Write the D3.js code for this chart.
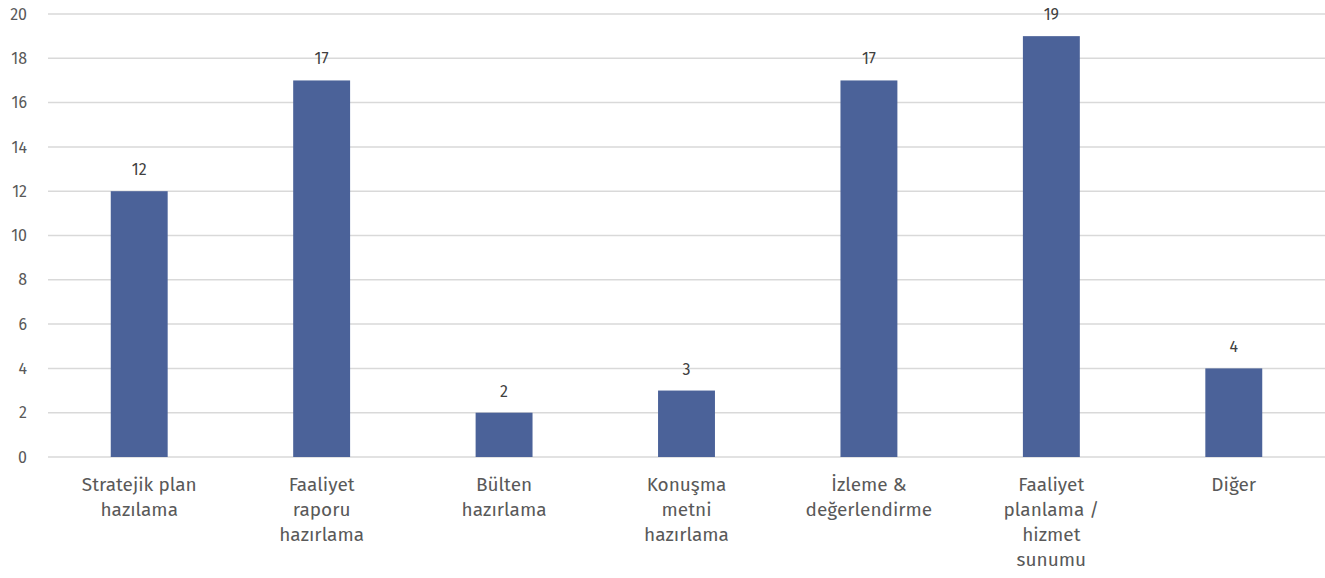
<!DOCTYPE html>
<html>
<head>
<meta charset="utf-8">
<script src="https://cdn.jsdelivr.net/npm/d3@7"></script>
<style>
  html, body { margin: 0; padding: 0; background: #fff; }
  svg { display: block; font-family: "Fira Sans", "Open Sans", Lato, sans-serif; font-weight: 400; }
</style>
</head>
<body>
<svg id="chart" width="1325" height="578"></svg>
<script>
// Categories (each label split into its wrapped lines) and counts
const categories = [
  ["Stratejik plan", "hazılama"],
  ["Faaliyet", "raporu", "hazırlama"],
  ["Bülten", "hazırlama"],
  ["Konuşma", "metni", "hazırlama"],
  ["İzleme &", "değerlendirme"],
  ["Faaliyet", "planlama /", "hizmet", "sunumu"],
  ["Diğer"]
];
const values = [12, 17, 2, 3, 17, 19, 4];
const yTicks = [0, 2, 4, 6, 8, 10, 12, 14, 16, 18, 20];

(function draw() {
  const svg = d3.select("#chart");
  const plotLeft = 48, plotRight = 1325, plotTop = 14, plotBottom = 457;

  const x = d3.scaleBand()
    .domain(d3.range(categories.length))
    .range([plotLeft, plotRight])
    .padding(0);
  const y = d3.scaleLinear().domain([0, 20]).range([plotBottom, plotTop]);
  const barW = x.bandwidth() * 0.312;

  // horizontal gridlines
  svg.append("g")
    .selectAll("line")
    .data(yTicks)
    .join("line")
    .attr("x1", plotLeft).attr("x2", plotRight)
    .attr("y1", d => y(d)).attr("y2", d => y(d))
    .attr("stroke", "#d9d9d9").attr("stroke-width", 1.5);

  // y-axis labels
  svg.append("g")
    .selectAll("text")
    .data(yTicks)
    .join("text")
    .attr("x", 27).attr("y", d => y(d))
    .attr("dy", "0.35em")
    .attr("text-anchor", "end")
    .attr("font-size", 16)
    .attr("fill", "#595959")
    .text(d => d);

  // bars
  svg.append("g")
    .selectAll("rect")
    .data(values)
    .join("rect")
    .attr("x", (d, i) => x(i) + x.bandwidth() / 2 - barW / 2)
    .attr("width", barW)
    .attr("y", d => y(d))
    .attr("height", d => y(0) - y(d))
    .attr("fill", "#4b6299");

  // value labels
  svg.append("g")
    .selectAll("text")
    .data(values)
    .join("text")
    .attr("x", (d, i) => x(i) + x.bandwidth() / 2)
    .attr("y", d => y(d) - 16)
    .attr("text-anchor", "middle")
    .attr("font-size", 16)
    .attr("fill", "#404040")
    .text(d => d);

  // category labels
  const cat = svg.append("g")
    .selectAll("text")
    .data(categories)
    .join("text")
    .attr("x", (d, i) => x(i) + x.bandwidth() / 2)
    .attr("y", 491)
    .attr("text-anchor", "middle")
    .attr("font-size", 19)
    .attr("fill", "#595959");
  cat.selectAll("tspan")
    .data(d => d)
    .join("tspan")
    .attr("x", function () { return d3.select(this.parentNode).attr("x"); })
    .attr("dy", (d, i) => i === 0 ? 0 : 25)
    .text(d => d);
})();
</script>
</body>
</html>
